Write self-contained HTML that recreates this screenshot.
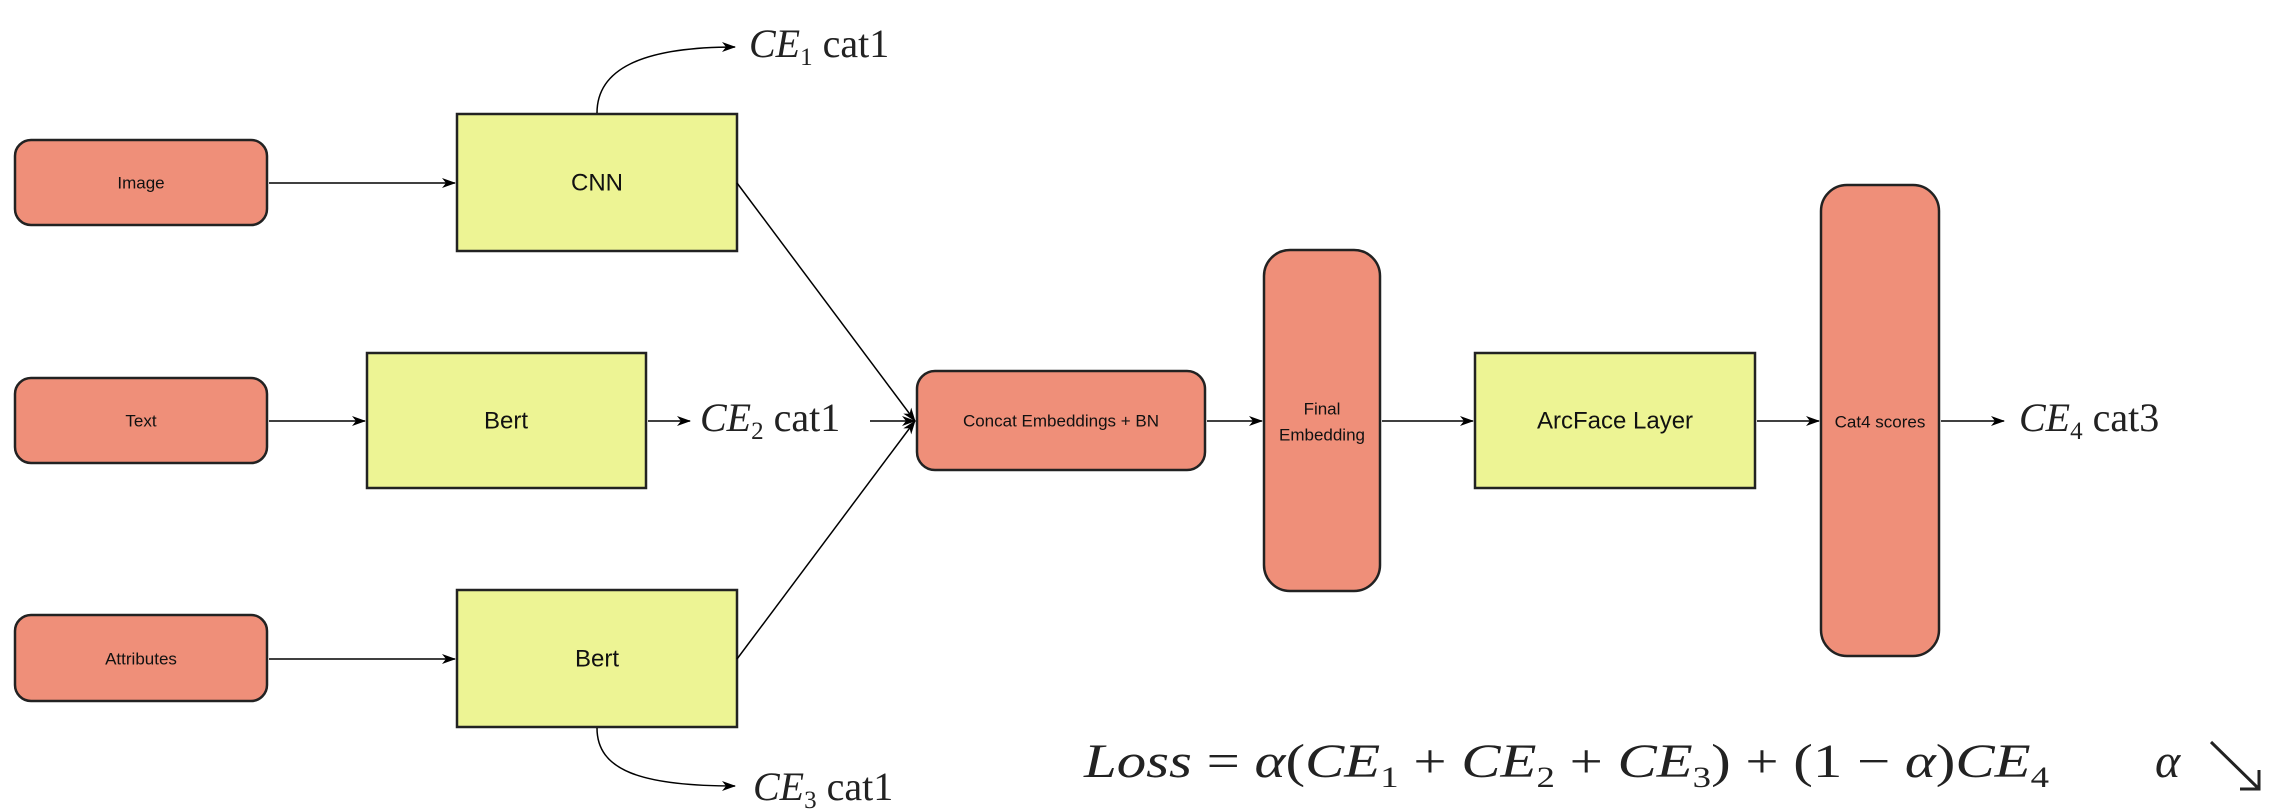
<!DOCTYPE html>
<html><head><style>
html,body{margin:0;padding:0;background:#fff;}
svg{display:block}
.n{font-family:"Liberation Sans","DejaVu Sans",sans-serif;fill:#111;text-anchor:middle;dominant-baseline:central}
.m{font-family:"Liberation Serif",serif;fill:#222}
</style></head><body>
<svg width="2280" height="812" viewBox="0 0 2280 812" xmlns="http://www.w3.org/2000/svg">
<defs><marker id="a" markerWidth="14" markerHeight="10" refX="13" refY="5" orient="auto" markerUnits="userSpaceOnUse"><path d="M0,0 L14,5 L0,10 L4,5 Z" fill="#000"/></marker></defs>
<g stroke="#222" stroke-width="2.5">
<rect x="15" y="140" width="252" height="85" rx="16" fill="#EF8F79"/>
<rect x="15" y="378" width="252" height="85" rx="16" fill="#EF8F79"/>
<rect x="15" y="615" width="252" height="86" rx="16" fill="#EF8F79"/>
<rect x="457" y="114" width="280" height="137" fill="#EDF494"/>
<rect x="367" y="353" width="279" height="135" fill="#EDF494"/>
<rect x="457" y="590" width="280" height="137" fill="#EDF494"/>
<rect x="917" y="371" width="288" height="99" rx="18" fill="#EF8F79"/>
<rect x="1264" y="250" width="116" height="341" rx="26" fill="#EF8F79"/>
<rect x="1475" y="353" width="280" height="135" fill="#EDF494"/>
<rect x="1821" y="185" width="118" height="471" rx="26" fill="#EF8F79"/>
</g>
<g stroke="#000" stroke-width="1.5" fill="none" marker-end="url(#a)">
<line x1="269" y1="183" x2="455" y2="183"/>
<line x1="269" y1="421" x2="365" y2="421"/>
<line x1="269" y1="659" x2="455" y2="659"/>
<line x1="737" y1="183" x2="915" y2="421"/>
<line x1="737" y1="659" x2="915" y2="421"/>
<line x1="648" y1="421" x2="690" y2="421"/>
<line x1="870" y1="421" x2="915" y2="421"/>
<line x1="1207" y1="421" x2="1262" y2="421"/>
<line x1="1382" y1="421" x2="1473" y2="421"/>
<line x1="1757" y1="421" x2="1819" y2="421"/>
<line x1="1941" y1="421" x2="2004" y2="421"/>
<path d="M597,113 C597,70 640,47 735,47"/>
<path d="M597,728 C597,770 640,786 735,786"/>
</g>
<text class="n" x="141" y="183" font-size="17">Image</text>
<text class="n" x="141" y="421" font-size="17">Text</text>
<text class="n" x="141" y="659" font-size="17">Attributes</text>
<text class="n" x="597" y="183" font-size="24">CNN</text>
<text class="n" x="506" y="421" font-size="24">Bert</text>
<text class="n" x="597" y="659" font-size="24">Bert</text>
<text class="n" x="1061" y="421" font-size="17">Concat Embeddings + BN</text>
<text class="n" x="1322" y="409" font-size="17">Final</text>
<text class="n" x="1322" y="435" font-size="17">Embedding</text>
<text class="n" x="1615" y="421" font-size="24">ArcFace Layer</text>
<text class="n" x="1880" y="422" font-size="17">Cat4 scores</text>
<text class="m" x="749" y="57" font-size="40"><tspan font-style="italic">CE</tspan><tspan font-size="25" dy="8">1</tspan><tspan dy="-8"> cat1</tspan></text>
<text class="m" x="700" y="431" font-size="40"><tspan font-style="italic">CE</tspan><tspan font-size="25" dy="8">2</tspan><tspan dy="-8"> cat1</tspan></text>
<text class="m" x="753" y="800" font-size="40"><tspan font-style="italic">CE</tspan><tspan font-size="25" dy="8">3</tspan><tspan dy="-8"> cat1</tspan></text>
<text class="m" x="2019" y="431" font-size="40"><tspan font-style="italic">CE</tspan><tspan font-size="25" dy="8">4</tspan><tspan dy="-8"> cat3</tspan></text>
<text class="m" x="1084" y="777" font-size="48" textLength="965" lengthAdjust="spacingAndGlyphs"><tspan font-style="italic">Loss</tspan> = <tspan font-style="italic">α</tspan>(<tspan font-style="italic">CE</tspan><tspan font-size="30" dy="10">1</tspan><tspan dy="-10"> + </tspan><tspan font-style="italic">CE</tspan><tspan font-size="30" dy="10">2</tspan><tspan dy="-10"> + </tspan><tspan font-style="italic">CE</tspan><tspan font-size="30" dy="10">3</tspan><tspan dy="-10">) + (1 − </tspan><tspan font-style="italic">α</tspan>)<tspan font-style="italic">CE</tspan><tspan font-size="30" dy="10">4</tspan></text>
<text class="m" x="2155" y="777" font-size="48" font-style="italic">α</text>
<g stroke="#222" stroke-width="3" fill="none"><line x1="2211" y1="742" x2="2258" y2="788"/><path d="M2240,789 L2259,789 L2259,770"/></g>
</svg>
</body></html>
